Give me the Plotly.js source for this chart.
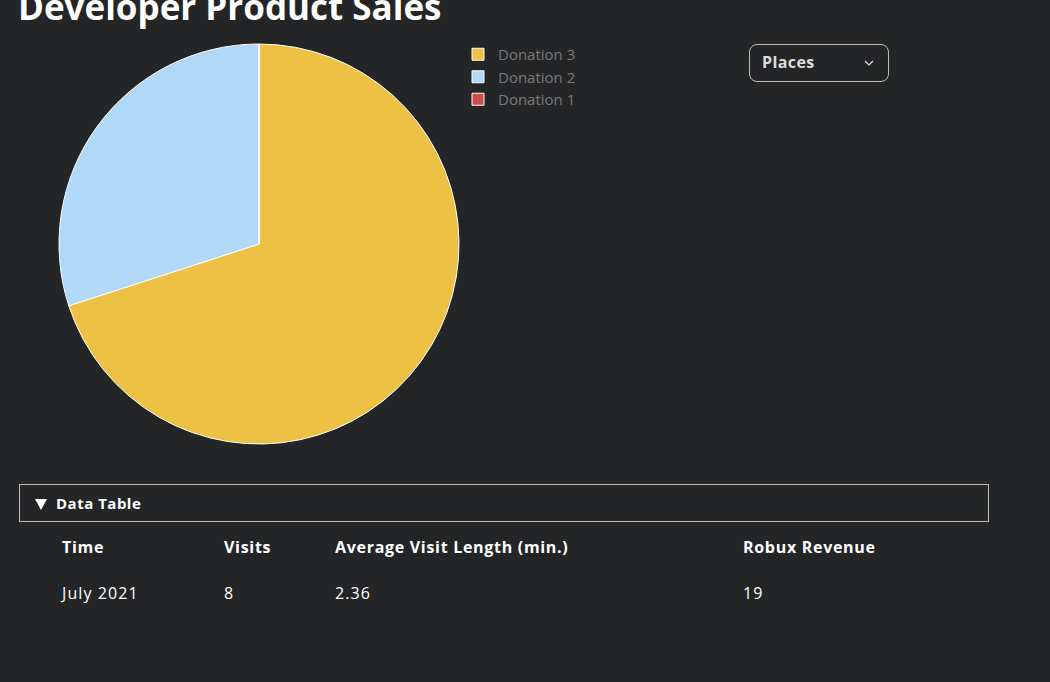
<!DOCTYPE html>
<html>
<head>
<meta charset="utf-8">
<script src="https://cdn.plot.ly/plotly-3.0.1.min.js"></script>
<style>
  html, body { margin: 0; padding: 0; background: #232527; width: 1050px; height: 682px; overflow: hidden; font-family: "Open Sans", Lato, sans-serif; }
  #chart { position: absolute; left: 0; top: 0; width: 1050px; height: 682px; }
  #places { position: absolute; left: 749px; top: 44px; width: 140px; height: 38px; border: 1px solid #bdbdbd; border-radius: 8px; box-sizing: border-box; color: #dcdcdc; font-weight: 700; font-size: 16px; letter-spacing: 0.4px; line-height: 35px; padding-left: 12px; }
  #places svg { position: absolute; right: 14px; top: 15px; }
  #dt { position: absolute; left: 19px; top: 484px; width: 970px; height: 38px; border: 1px solid #bdbdbd; box-sizing: border-box; color: #fff; font-weight: 700; font-size: 15px; letter-spacing: 0.5px; line-height: 36px; padding-left: 14px; }
  #dt svg { position: absolute; left: 15px; top: 14px; }
  #dt .lbl { position: absolute; left: 36px; top: 0; }
  .cell { position: absolute; color: #fff; font-size: 16px; white-space: nowrap; letter-spacing: 1.1px; }
  .hdr { font-weight: 700; letter-spacing: 0.7px; }
</style>
</head>
<body>
<div id="chart"></div>
<div id="places">Places<svg width="10" height="6" viewBox="0 0 10 6"><path d="M1,1 L5,5 L9,1" stroke="#dcdcdc" stroke-width="1.2" fill="none"/></svg></div>
<div id="dt"><svg width="12" height="11" viewBox="0 0 12 11"><path d="M0,0 L12,0 L6,11 Z" fill="#ffffff"/></svg><span class="lbl">Data Table</span></div>
<div id="table"></div>
<script>
// ---- data ----
const productLabels = ["Donation 3", "Donation 2", "Donation 1"];
const productSales = [7, 3, 0];
const productColors = ["#EDC143", "#B2D8F7", "#CC4C4C"];

const tableColumns = ["Time", "Visits", "Average Visit Length (min.)", "Robux Revenue"];
const tableTime = ["July 2021"];
const tableVisits = ["8"];
const tableAvgLength = ["2.36"];
const tableRevenue = ["19"];

// ---- chart ----
const W = 1050, H = 682;
const trace = {
  type: "pie",
  labels: productLabels,
  values: productSales,
  marker: { colors: productColors, line: { color: "#ffffff", width: 1 } },
  sort: true,
  direction: "clockwise",
  textinfo: "none",
  hoverinfo: "label+value+percent",
  domain: { x: [59 / W, 459 / W], y: [1 - 444 / H, 1 - 44 / H] }
};
const layout = {
  width: W, height: H,
  margin: { l: 0, r: 0, t: 0, b: 0 },
  paper_bgcolor: "#232527",
  plot_bgcolor: "#232527",
  title: {
    text: "<b>Developer Product Sales</b>",
    font: { family: "Open Sans, sans-serif", size: 35, color: "#ffffff" },
    x: 18 / W, xanchor: "left", xref: "paper",
    y: 1 - 20 / H, yanchor: "bottom", yref: "container"
  },
  showlegend: true,
  legend: {
    x: 458 / W, xanchor: "left",
    y: 1 - 38 / H, yanchor: "top",
    bgcolor: "rgba(0,0,0,0)",
    font: { family: "Open Sans, sans-serif", size: 15, color: "#7a7a7a" }
  }
};
Plotly.newPlot("chart", [trace], layout, { displayModeBar: false });

// ---- table ----
const colX = [62, 224, 335, 743];
const tbl = document.getElementById("table");
function addCell(txt, x, y, hdr) {
  const d = document.createElement("div");
  d.className = "cell" + (hdr ? " hdr" : "");
  d.style.left = x + "px"; d.style.top = y + "px";
  d.textContent = txt;
  tbl.appendChild(d);
}
tableColumns.forEach((c, i) => addCell(c, colX[i], 536, true));
const rows = tableTime.map((t, i) => [t, tableVisits[i], tableAvgLength[i], tableRevenue[i]]);
rows.forEach((r, ri) => r.forEach((v, i) => addCell(v, colX[i], 582 + ri * 46, false)));
</script>
</body>
</html>
